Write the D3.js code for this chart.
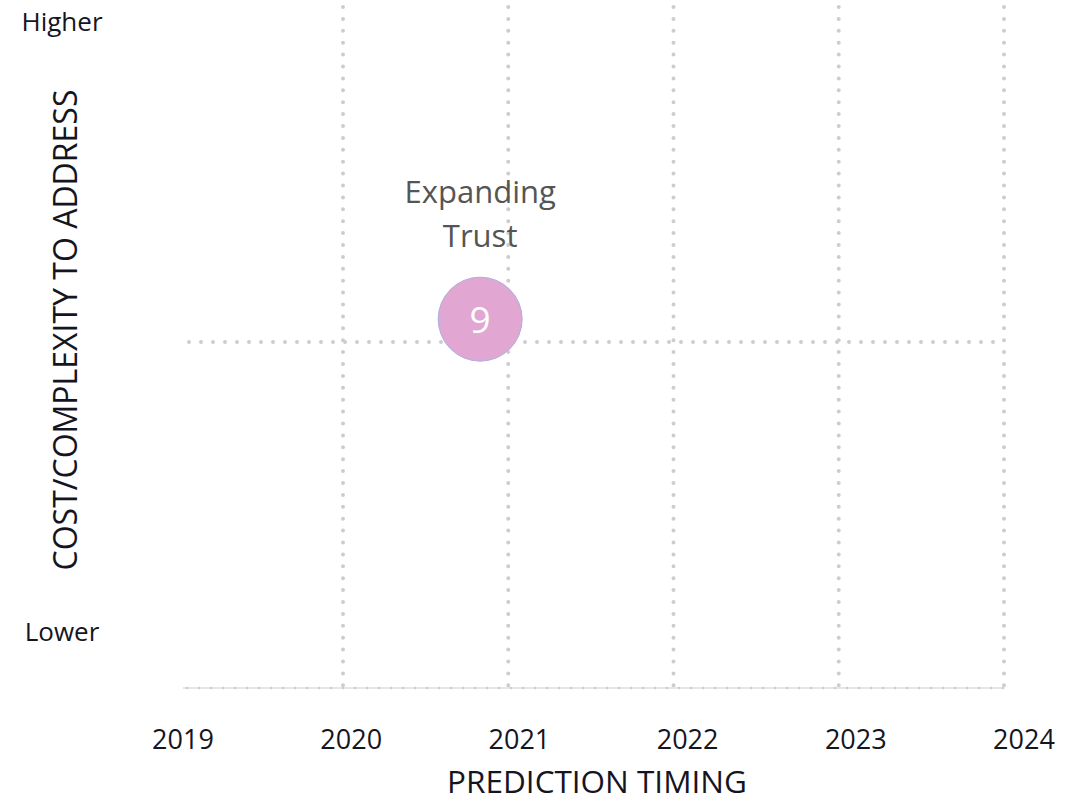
<!DOCTYPE html>
<html>
<head>
<meta charset="utf-8">
<script src="https://cdn.jsdelivr.net/npm/d3@7"></script>
<style>
  html, body { margin: 0; padding: 0; background: #fff; }
  svg { display: block; font-family: "Open Sans", sans-serif; }
</style>
</head>
<body>
<svg id="chart" width="1079" height="802"></svg>
<script>
// ---- data ----
const years = [2019, 2020, 2021, 2022, 2023, 2024];
const gridYears = [2020, 2021, 2022, 2023, 2024];
const predictionIds = [9];
const predictionNames = [["Expanding", "Trust"]];
const predictionTiming = [2020.83];
const predictionCost = [5.33];
const yMidValues = [5];
const yLabels = ["Lower", "Higher"];

// ---- layout ----
const svg = d3.select("#chart");
const plotLeft = 183, plotRight = 1004, plotTop = -4, plotBottom = 688;

const x = d3.scaleLinear().domain([2020, 2024]).range([343, 1004]);
const y = d3.scaleLinear().domain([0, 10]).range([plotBottom, plotTop]);
const labelX = d3.scalePoint().domain(years).range([183, 1024]);

const gridColor = "#cdcdcd";
const textColor = "#15151f";

// vertical dotted grid lines
svg.append("g").selectAll("line").data(gridYears).join("line")
  .attr("x1", d => x(d)).attr("x2", d => x(d))
  .attr("y1", 7).attr("y2", plotBottom)
  .attr("stroke", gridColor).attr("stroke-width", 4)
  .attr("stroke-linecap", "round").attr("stroke-dasharray", "0 11.9");

// horizontal mid grid line
svg.append("g").selectAll("line").data(yMidValues).join("line")
  .attr("x1", 189).attr("x2", plotRight)
  .attr("y1", d => y(d)).attr("y2", d => y(d))
  .attr("stroke", gridColor).attr("stroke-width", 4)
  .attr("stroke-linecap", "round").attr("stroke-dasharray", "0 12");

// bottom axis line
svg.append("line")
  .attr("x1", plotLeft).attr("x2", plotRight)
  .attr("y1", plotBottom).attr("y2", plotBottom)
  .attr("stroke", "#dcdcdc").attr("stroke-width", 1.5);
svg.append("line")
  .attr("x1", plotLeft + 4).attr("x2", plotRight)
  .attr("y1", plotBottom).attr("y2", plotBottom)
  .attr("stroke", "#cccccc").attr("stroke-width", 2.5)
  .attr("stroke-linecap", "round").attr("stroke-dasharray", "0 12");

// x tick labels
svg.append("g").selectAll("text").data(years).join("text")
  .attr("x", d => labelX(d)).attr("y", 749)
  .attr("text-anchor", "middle")
  .attr("font-size", 27).attr("fill", textColor)
  .text(d => d);

// x axis title
svg.append("text")
  .attr("x", 597).attr("y", 793)
  .attr("text-anchor", "middle")
  .attr("font-size", 31.5).attr("fill", textColor)
  .text("PREDICTION TIMING");

// y labels
svg.append("text").attr("x", 62).attr("y", 31).attr("text-anchor", "middle")
  .attr("font-size", 26).attr("fill", textColor).text(yLabels[1]);
svg.append("text").attr("x", 62).attr("y", 641).attr("text-anchor", "middle")
  .attr("font-size", 26).attr("fill", textColor).text(yLabels[0]);

// y axis title
svg.append("text")
  .attr("transform", "translate(77,330) rotate(-90)")
  .attr("text-anchor", "middle")
  .attr("font-size", 32).attr("fill", textColor)
  .text("COST/COMPLEXITY TO ADDRESS");

// bubbles
const data = predictionIds.map((id, i) => ({
  id, name: predictionNames[i], t: predictionTiming[i], c: predictionCost[i]
}));
const g = svg.append("g").selectAll("g").data(data).join("g")
  .attr("transform", d => `translate(${x(d.t)},${y(d.c)})`);
g.append("circle").attr("r", 42)
  .attr("fill", "#e2a6d3").attr("stroke", "#a8b0dc").attr("stroke-width", 1);
g.append("text").attr("y", 14).attr("text-anchor", "middle")
  .attr("font-size", 37).attr("fill", "#fff").text(d => d.id);
g.each(function(d) {
  const sel = d3.select(this);
  d.name.forEach((line, k) => {
    sel.append("text")
      .attr("y", -116.5 + k * 44)
      .attr("text-anchor", "middle")
      .attr("font-size", 31).attr("fill", "#555")
      .text(line);
  });
});
</script>
</body>
</html>
